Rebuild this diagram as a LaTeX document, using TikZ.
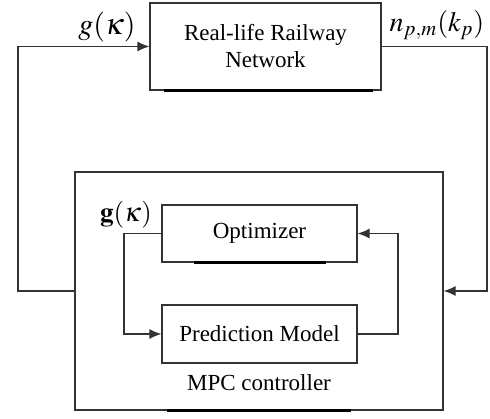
\documentclass[tikz,border=0pt]{standalone}
\usepackage{mathptmx}
\usepackage{fontspec}
\setmainfont{Liberation Serif}
\usetikzlibrary{arrows.meta}

\tikzset{
  blk/.style={draw=black!80, line width=0.6pt, fill=white, inner sep=0pt, align=center, font=\fontsize{11.5}{13.5}\selectfont},
  bar/.style={line width=1.5pt, black},
  wire/.style={draw=black!80, line width=0.6pt},
  arr/.style={wire, -{Latex[length=6pt, width=5pt]}},
  mlab/.style={font=\fontsize{15}{18}\selectfont}
}

\begin{document}
\begin{tikzpicture}[x=0.5pt, y=-0.5pt]
      \useasboundingbox (0,0) rectangle (490,418);
      % blocks
      \node[blk, minimum width=115.5pt, minimum height=43.5pt] (rail) at (265.5,46.5) {Real-life Railway\\Network};
      \node[blk, minimum width=184pt, minimum height=119pt] (mpc) at (259,291) {};
      \node[blk, minimum width=97.5pt, minimum height=28.5pt] (opt) at (259.5,233.5) {Optimizer};
      \node[blk, minimum width=97.5pt, minimum height=29pt] (pred) at (259.5,334) {Prediction Model};
      \node[font=\fontsize{11.5}{13.5}\selectfont] (mpclab) at (259,383) {MPC controller};
      \draw[bar] ([xshift=7.5pt]rail.south west) -- ([xshift=-4.5pt]rail.south east);
      \draw[bar] ([xshift=16.5pt]opt.south west) -- ([xshift=-16pt]opt.south east);
      \draw[bar] ([xshift=46.5pt]mpc.south west) -- ([xshift=-46.5pt]mpc.south east);
      % labels
      \node[mlab] (gin) at (107,27) {$g(\kappa)$};
      \node[font=\fontsize{14}{17}\selectfont] (nout) at (437,25) {$n_{p,m}(k_p)$};
      \node[font=\fontsize{13.5}{16}\selectfont] (gopt) at (126,215) {$\mathbf{g}(\kappa)$};
      % outer loop
      \coordinate (lb) at (18,291);
      \coordinate (lt) at (18,46.5);
      \coordinate (rt) at (487,46.5);
      \coordinate (rb) at (487,291);
      \draw[arr] (mpc.west) -- (lb) -- (lt) -- (rail.west);
      \draw[arr] (rail.east) -- (rt) -- (rb) -- (mpc.east);
      % inner loop
      \draw[arr] (opt.west) -- (124,233.5) |- (pred.west);
      \draw[arr] (pred.east) -- (398,334) |- (opt.east);
    \end{tikzpicture}
\end{document}
